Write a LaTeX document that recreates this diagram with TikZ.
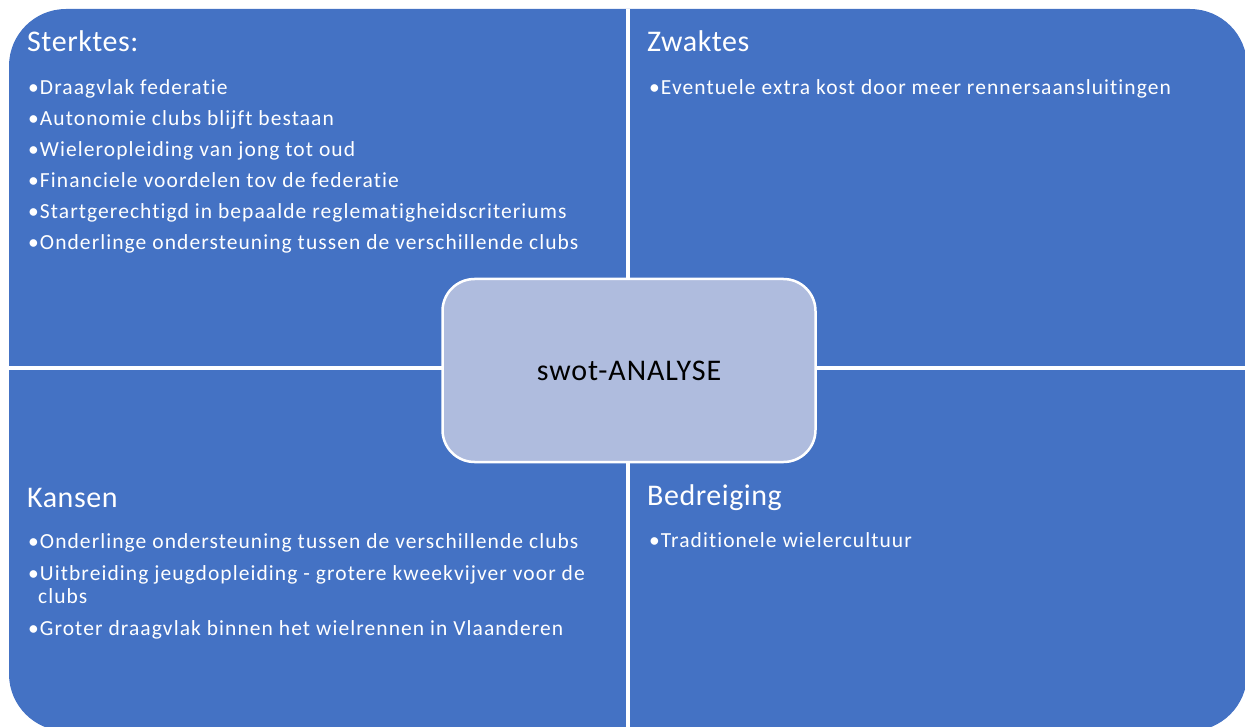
\documentclass[tikz,border=0pt]{standalone}
\usepackage{fontspec}
\setmainfont{Carlito}[Ligatures=NoCommon]
\newfontfamily\puntfont{Carlito}[LetterSpace=5,Ligatures=NoCommon]
\newfontfamily\kopfont{Carlito}[LetterSpace=1.8,Ligatures=NoCommon]
\newfontfamily\kernfont{Carlito}[LetterSpace=3.2,Ligatures=NoCommon]
\definecolor{swotblue}{RGB}{68,114,196}
\definecolor{swotpale}{RGB}{175,188,222}
\tikzset{
  quad/.style={fill=swotblue},
  kop/.style={anchor=base west,text=white,inner sep=0pt,font=\kopfont\fontsize{30}{36}\selectfont},
  punt/.style={anchor=base west,text=white,inner sep=0pt,font=\puntfont\fontsize{21.5}{26}\selectfont},
  kern/.style={draw=white,line width=2.5pt,fill=swotpale,rounded corners=32pt,inner sep=0pt}
}
\begin{document}
\begin{tikzpicture}[x=1pt,y=-1pt]
\useasboundingbox (0,0) rectangle (1245,727);
\clip (0,0) rectangle (1245,727);
\fill [quad,rounded corners=57pt] (9,9) rectangle (1247,731);
\draw [white,line width=3.5pt] (628,9) -- (628,731);
\draw [white,line width=3.5pt] (9,368) -- (1247,368);
% sterktes
\node [kop] (s) at (27,52) {Sterktes:};
\node [punt] (s1) at (28,95) {•Draagvlak federatie};
\node [punt] (s2) at (28,126) {•Autonomie clubs blijft bestaan};
\node [punt] (s3) at (28,157) {•Wieleropleiding van jong tot oud};
\node [punt] (s4) at (28,188) {•Financiele voordelen tov de federatie};
\node [punt] (s5) at (28,219) {•Startgerechtigd in bepaalde reglematigheidscriteriums};
\node [punt] (s6) at (28,250) {•Onderlinge ondersteuning tussen de verschillende clubs};
% zwaktes
\node [kop] (z) at (647,52) {Zwaktes};
\node [punt] (z1) at (649,95) {•Eventuele extra kost door meer rennersaansluitingen};
% kansen
\node [kop] (k) at (27,507) {Kansen};
\node [punt] (k1) at (28,548) {•Onderlinge ondersteuning tussen de verschillende clubs};
\node [punt] (k2) at (28,580) {•Uitbreiding jeugdopleiding - grotere kweekvijver voor de};
\node [punt] (k2b) at (38,603) {clubs};
\node [punt] (k3) at (28,635) {•Groter draagvlak binnen het wielrennen in Vlaanderen};
% bedreiging
\node [kop] (b) at (647,505) {Bedreiging};
\node [punt] (b1) at (649,547) {•Traditionele wielercultuur};
% midden
\node [kern,minimum width=373pt,minimum height=183pt,font=\kernfont\fontsize{30}{36}\selectfont] (swot) at (629,370.5) {swot-ANALYSE};
\end{tikzpicture}
\end{document}
